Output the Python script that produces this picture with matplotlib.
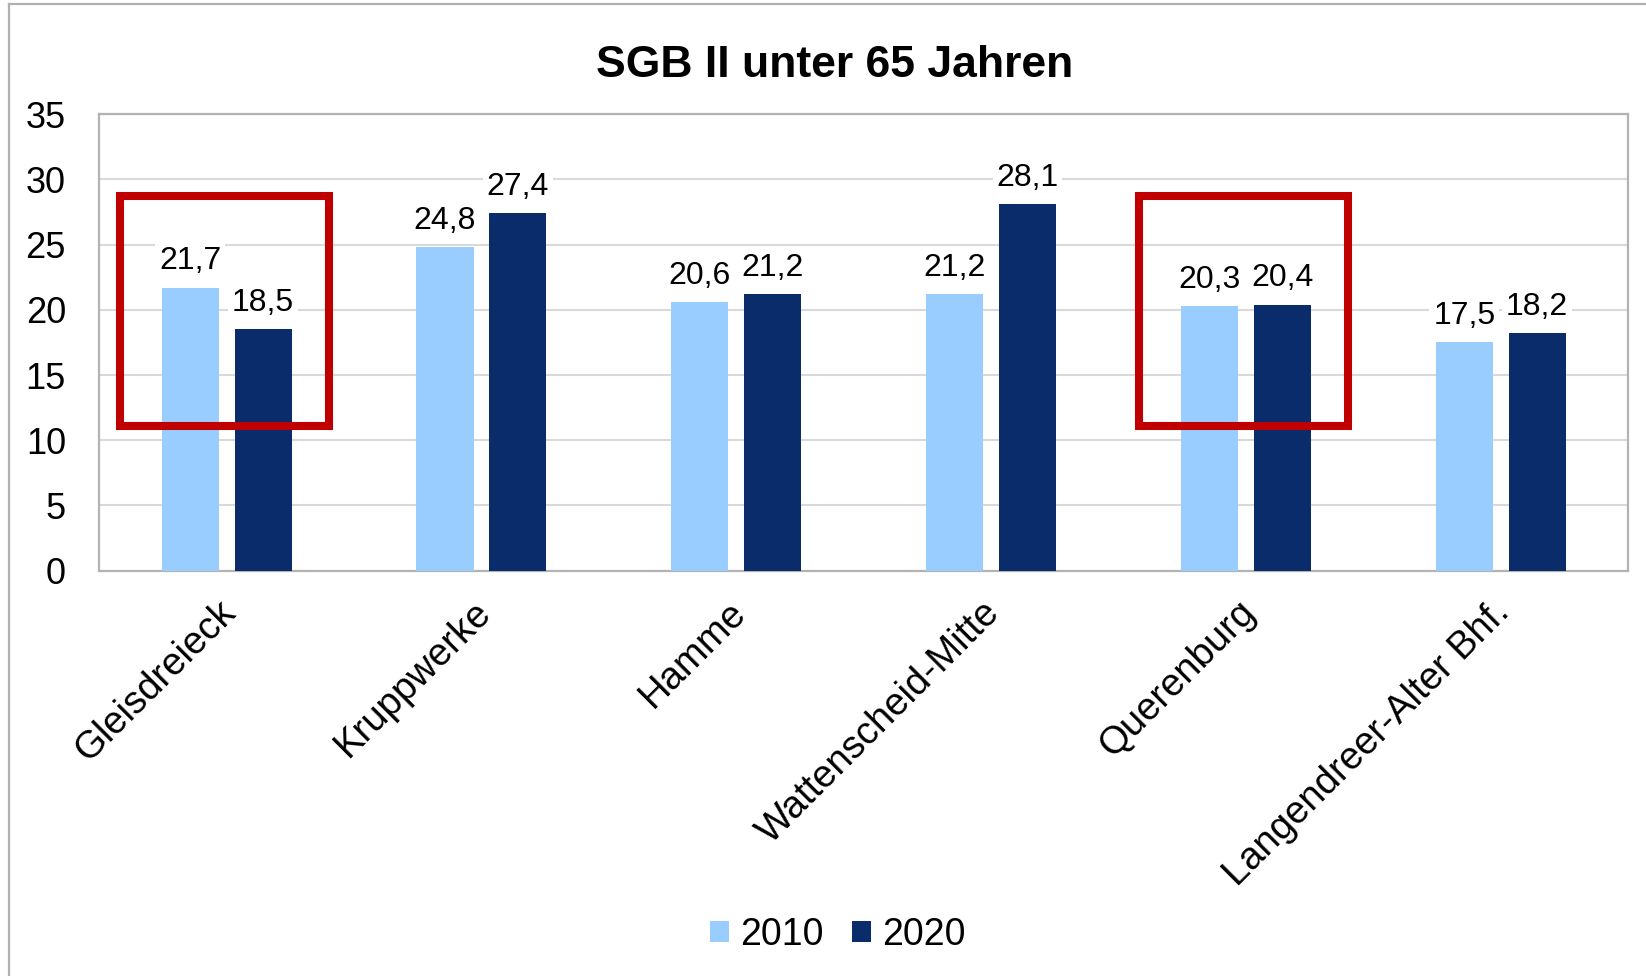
import matplotlib.pyplot as plt
import matplotlib.transforms as mtransforms
from matplotlib.patches import Rectangle
from matplotlib.lines import Line2D
import numpy as np

plt.rcParams['font.family'] = ['Liberation Sans', 'DejaVu Sans']

# data
stadtteile = ['Gleisdreieck', 'Kruppwerke', 'Hamme', 'Wattenscheid-Mitte',
              'Querenburg', 'Langendreer-Alter Bhf.']
werte_2010 = [21.7, 24.8, 20.6, 21.2, 20.3, 17.5]
werte_2020 = [18.5, 27.4, 21.2, 28.1, 20.4, 18.2]
jahre = ['2010', '2020']
markiert = ['Gleisdreieck', 'Querenburg']

col_2010 = '#99ccff'
col_2020 = '#0b2c6a'

fig = plt.figure(figsize=(16.46, 9.76), dpi=100)
ax = fig.add_axes([0.0603, 0.4153, 0.9288, 0.4676])

x = np.arange(len(stadtteile))
w = 0.224
off = 0.143
b1 = ax.bar(x - off, werte_2010, w, color=col_2010, label=jahre[0], zorder=3)
b2 = ax.bar(x + off, werte_2020, w, color=col_2020, label=jahre[1], zorder=3)

for bars in (b1, b2):
    for rect in bars:
        h = rect.get_height()
        ax.annotate(f'{h:.1f}'.replace('.', ','),
                    (rect.get_x() + rect.get_width() / 2, h),
                    xytext=(0, 19), textcoords='offset points',
                    ha='center', va='center', fontsize=23, zorder=4,
                    bbox=dict(boxstyle='square,pad=0.12', fc='white', ec='none'))

# red frames
for name in markiert:
    i = stadtteile.index(name)
    ax.add_patch(Rectangle((i - 0.42, 11.1), 0.82, 17.6, fill=False,
                           ec='#c00000', lw=5.8, zorder=5, joinstyle='miter'))

ax.set_xlim(-0.5, len(stadtteile) - 0.5)
ax.set_ylim(0, 35)
ax.set_yticks(range(0, 36, 5))
ax.yaxis.grid(True, color='#d9d9d9', lw=1.5, zorder=0)
ax.set_axisbelow(True)
for s in ax.spines.values():
    s.set_color('#b3b3b3')
    s.set_linewidth(1.6)
ax.tick_params(axis='y', length=0, pad=24, labelsize=26)
ax.tick_params(axis='x', length=0, pad=17, labelsize=27.5)
ax.set_xticks(x)
ax.set_xticklabels(stadtteile, rotation=45, ha='right', va='top',
                   rotation_mode='anchor')
shift = mtransforms.ScaledTranslation(-0.09, 0, fig.dpi_scale_trans)
for lab in ax.get_xticklabels():
    lab.set_transform(lab.get_transform() + shift)

fig.text(0.507, 0.933, 'SGB II unter 65 Jahren', ha='center', va='center',
         fontsize=32, fontweight='bold')

fig.legend(handles=[b1, b2], labels=jahre, loc='center',
           bbox_to_anchor=(0.509, 0.042), ncol=2, frameon=False, fontsize=27,
           handlelength=0.5, handleheight=0.5, handletextpad=0.3,
           columnspacing=0.75)

# outer chart border (only left and top visible)
fig.add_artist(Line2D([0.0055, 0.0055], [0, 0.9954], color='#b0b0b0', lw=1.6))
fig.add_artist(Line2D([0.0055, 1], [0.9954, 0.9954], color='#b0b0b0', lw=1.6))

fig.savefig('out.png', dpi=100)
